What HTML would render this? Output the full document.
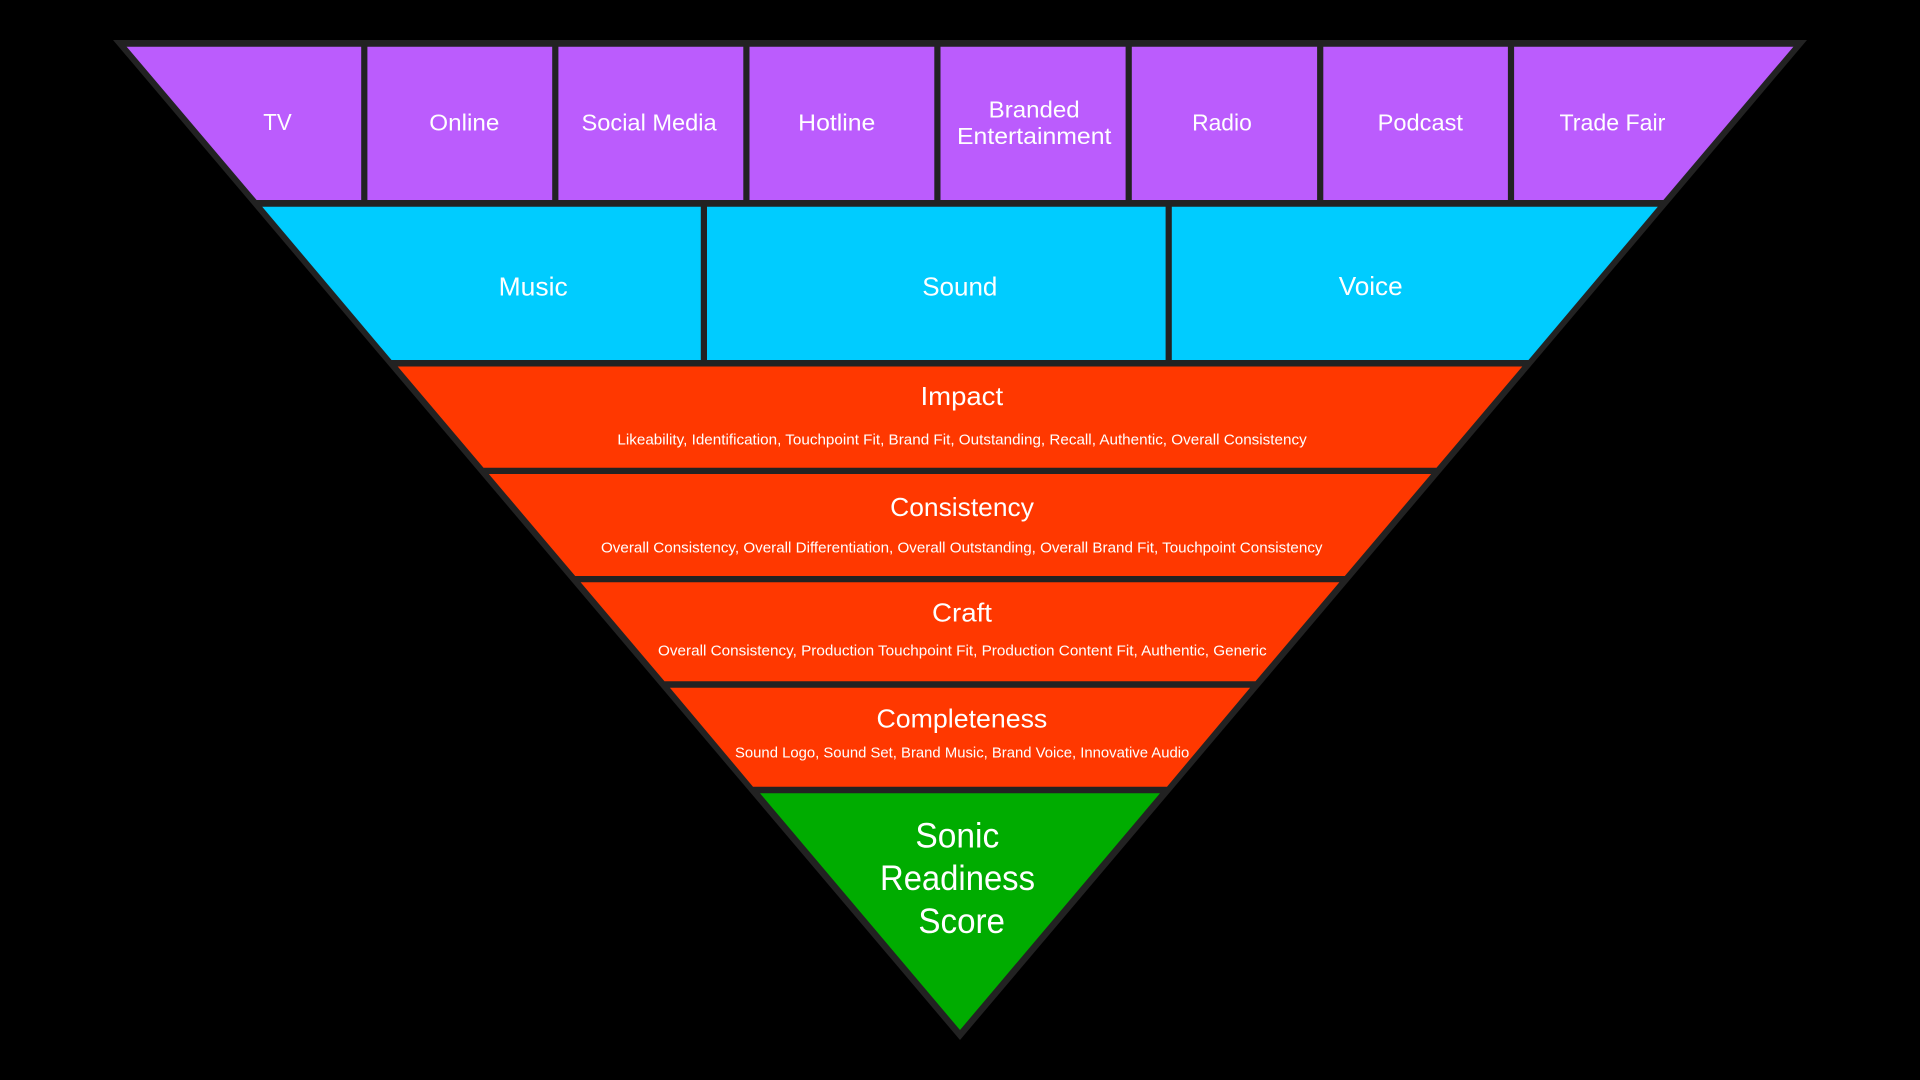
<!DOCTYPE html>
<html lang="en">
<head>
<meta charset="utf-8">
<title>Sonic Readiness Score</title>
<style>
html,body{margin:0;padding:0;background:#000;width:1920px;height:1080px;overflow:hidden}
svg{display:block}
text{font-family:"Liberation Sans",sans-serif;fill:#fff}
.a{font-size:23px}
.b{font-size:26px}
.s{font-size:14.5px}
.g{font-size:35px}
</style>
</head>
<body>
<svg xmlns="http://www.w3.org/2000/svg" width="1920" height="1080" viewBox="0 0 1920 1080">
<rect width="1920" height="1080" fill="#000"/>
<polygon points="113,40 1807,40 960,1040" fill="#222222"/>
<polygon points="126.6,46.7 1793.4,46.7 1663.4,200 256.6,200" fill="#BB5CFD"/>
<polygon points="262.2,206.7 1657.8,206.7 1528.5,360 391.5,360" fill="#00CCFF"/>
<polygon points="397.7,366.5 1522.3,366.5 1436.5,467.7 483.5,467.7" fill="#FF3800"/>
<polygon points="488.8,474 1431.2,474 1344.8,576 575.2,576" fill="#FF3800"/>
<polygon points="580.6,582.3 1339.4,582.3 1255.5,681.3 664.5,681.3" fill="#FF3800"/>
<polygon points="669.9,687.7 1250.1,687.7 1167,786.7 753,786.7" fill="#FF3800"/>
<polygon points="760,793.3 1160,793.3 960,1030" fill="#00AC00"/>
<g fill="#222222">
<rect x="361.2" y="46" width="6.2" height="155"/>
<rect x="552.2" y="46" width="6.2" height="155"/>
<rect x="743.3" y="46" width="6.2" height="155"/>
<rect x="934.3" y="46" width="6.2" height="155"/>
<rect x="1125.6" y="46" width="6.2" height="155"/>
<rect x="1317.1" y="46" width="6.2" height="155"/>
<rect x="1507.9" y="46" width="6.2" height="155"/>
<rect x="700.8" y="206" width="6.2" height="155"/>
<rect x="1165.6" y="206" width="6.2" height="155"/>
</g>
<g class="a">
<text class="a" x="263.3" y="130" textLength="28.4" lengthAdjust="spacingAndGlyphs">TV</text>
<text class="a" x="429.3" y="130.5" textLength="70" lengthAdjust="spacingAndGlyphs">Online</text>
<text class="a" x="581.5" y="130.5" textLength="135.2" lengthAdjust="spacingAndGlyphs">Social Media</text>
<text class="a" x="798.2" y="130.5" textLength="77.1" lengthAdjust="spacingAndGlyphs">Hotline</text>
<text class="a" x="988.7" y="117.3" textLength="91" lengthAdjust="spacingAndGlyphs">Branded</text>
<text class="a" x="957" y="144" textLength="154.4" lengthAdjust="spacingAndGlyphs">Entertainment</text>
<text class="a" x="1192.1" y="130.5" textLength="59.7" lengthAdjust="spacingAndGlyphs">Radio</text>
<text class="a" x="1377.6" y="130.5" textLength="85.4" lengthAdjust="spacingAndGlyphs">Podcast</text>
<text class="a" x="1559.5" y="130.5" textLength="105.9" lengthAdjust="spacingAndGlyphs">Trade Fair</text>
</g>
<text class="b" x="498.6" y="295.7" textLength="69.1" lengthAdjust="spacingAndGlyphs">Music</text>
<text class="b" x="922.2" y="295.7" textLength="75.2" lengthAdjust="spacingAndGlyphs">Sound</text>
<text class="b" x="1338.7" y="295" textLength="64" lengthAdjust="spacingAndGlyphs">Voice</text>
<text class="b" x="920.5" y="405" textLength="82.6" lengthAdjust="spacingAndGlyphs">Impact</text>
<text class="s" x="617.4" y="444.5" textLength="689.3" lengthAdjust="spacingAndGlyphs">Likeability, Identification, Touchpoint Fit, Brand Fit, Outstanding, Recall, Authentic, Overall Consistency</text>
<text class="b" x="890.2" y="516" textLength="143.7" lengthAdjust="spacingAndGlyphs">Consistency</text>
<text class="s" x="601" y="552.3" textLength="721.5" lengthAdjust="spacingAndGlyphs">Overall Consistency, Overall Differentiation, Overall Outstanding, Overall Brand Fit, Touchpoint Consistency</text>
<text class="b" x="932" y="621.7" textLength="60" lengthAdjust="spacingAndGlyphs">Craft</text>
<text class="s" x="658" y="655.3" textLength="608.7" lengthAdjust="spacingAndGlyphs">Overall Consistency, Production Touchpoint Fit, Production Content Fit, Authentic, Generic</text>
<text class="b" x="876.5" y="727.6" textLength="170.8" lengthAdjust="spacingAndGlyphs">Completeness</text>
<text class="s" x="735" y="757.7" textLength="454.3" lengthAdjust="spacingAndGlyphs">Sound Logo, Sound Set, Brand Music, Brand Voice, Innovative Audio</text>
<text class="g" x="915.4" y="847.4" textLength="83.9" lengthAdjust="spacingAndGlyphs">Sonic</text>
<text class="g" x="880" y="890.2" textLength="155" lengthAdjust="spacingAndGlyphs">Readiness</text>
<text class="g" x="918.4" y="933.2" textLength="86.6" lengthAdjust="spacingAndGlyphs">Score</text>
</svg>
</body>
</html>
